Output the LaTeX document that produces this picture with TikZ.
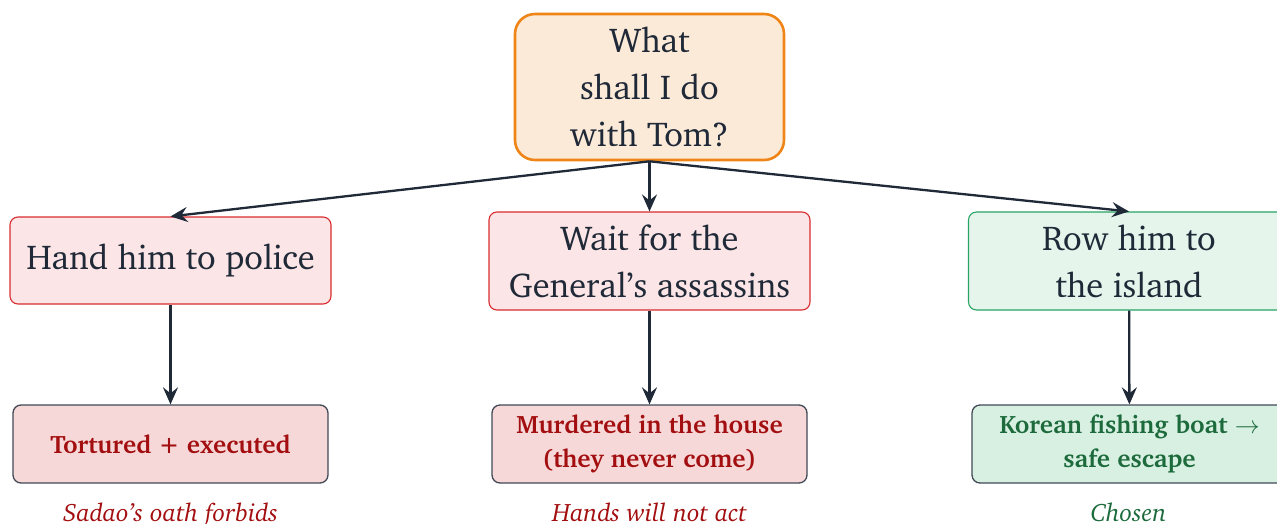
\documentclass[tikz,border=0pt]{standalone}
\usepackage[T1]{fontenc}
\usepackage{charter}
\usetikzlibrary{arrows.meta}

\definecolor{ink}{HTML}{1F2937}
\definecolor{qfill}{HTML}{FCEAD9}
\definecolor{qline}{HTML}{EE8516}
\definecolor{rfill}{HTML}{FBE5E6}
\definecolor{rline}{HTML}{D92C2F}
\definecolor{gfill}{HTML}{E5F5EC}
\definecolor{gline}{HTML}{28A464}
\definecolor{rdeep}{HTML}{F6D8D9}
\definecolor{gdeep}{HTML}{D8F0E2}
\definecolor{rtext}{HTML}{A30F10}
\definecolor{gtext}{HTML}{1D6B3C}

\tikzset{
  question/.style={draw=qline, line width=2.6pt, fill=qfill, rounded corners=20pt,
    minimum width=269pt, minimum height=146pt, align=center, text=ink,
    font=\fontsize{34.5}{47}\selectfont},
  option/.style={line width=1.1pt, rounded corners=8pt, minimum width=321pt,
    align=center, text=ink, font=\fontsize{34.5}{47}\selectfont},
  badopt/.style={option, draw=rline, fill=rfill},
  goodopt/.style={option, draw=gline, fill=gfill},
  outcome/.style={draw=ink!85, line width=1.3pt, rounded corners=8pt,
    minimum width=315pt, minimum height=78pt, align=center,
    font=\bfseries\fontsize{25.2}{34}\selectfont},
  badout/.style={outcome, fill=rdeep, text=rtext},
  goodout/.style={outcome, fill=gdeep, text=gtext},
  verdict/.style={anchor=base, font=\itshape\fontsize{25.2}{30}\selectfont},
  link/.style={draw=ink, line width=2.3pt, -{Stealth[length=17pt,width=15pt,inset=6pt]}}
}

\begin{document}
\begin{tikzpicture}[x=1pt,y=-1pt]
\useasboundingbox (0,0) rectangle (1277,523);

\node[question] (q) at (649.5,87) {What\\shall I do\\with Tom?};

\node[badopt, minimum height=87pt] (police) at (170.5,260.5) {Hand him to police};
\node[badopt, minimum height=98pt] (wait) at (649.5,261) {Wait for the\\General's assassins};
\node[goodopt, minimum height=98pt] (row) at (1129,261) {Row him to\\the island};

\node[badout] (tortured) at (170.5,444) {Tortured + executed};
\node[badout] (murdered) at (649.5,444) {Murdered in the house\\(they never come)};
\node[goodout] (boat) at (1129.5,444) {Korean fishing boat $\rightarrow$\\safe escape};

\node[verdict, text=rtext] (v1) at (170.5,521) {Sadao's oath forbids};
\node[verdict, text=rtext] (v2) at (649.5,521) {Hands will not act};
\node[verdict, text=gtext] (v3) at (1128.5,521) {Chosen};

\draw[link] (q.south) -- (police.north);
\draw[link] (q.south) -- (wait.north);
\draw[link] (q.south) -- (row.north);
\draw[link] (police) -- (tortured);
\draw[link] (wait) -- (murdered);
\draw[link] (row) -- (boat);
\end{tikzpicture}
\end{document}
